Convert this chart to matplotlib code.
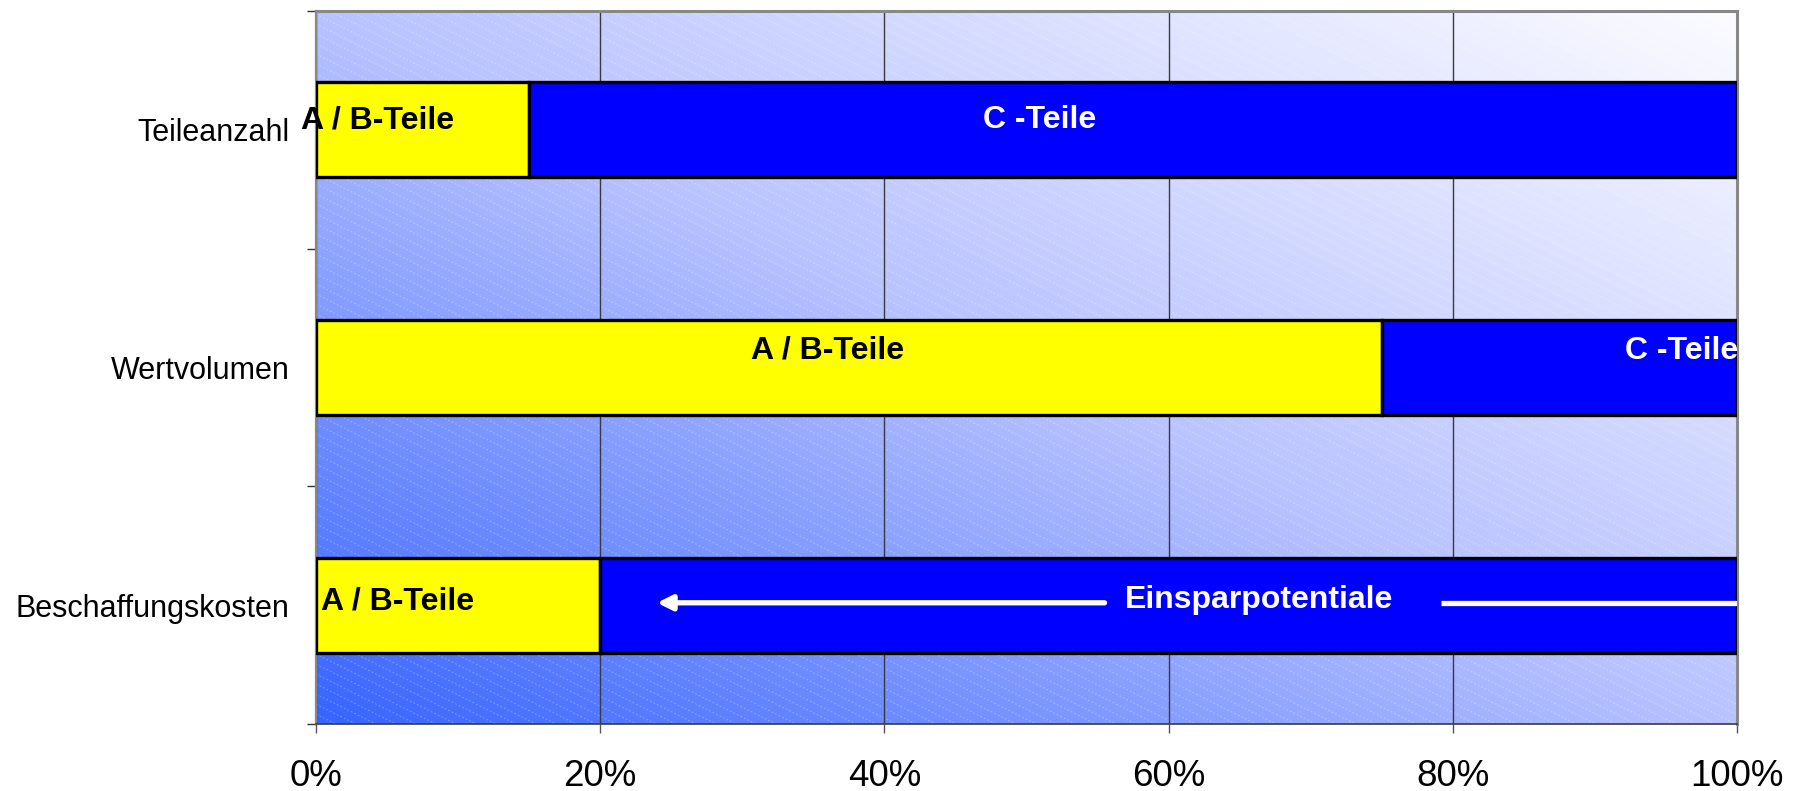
import matplotlib
matplotlib.use("Agg")
import matplotlib.pyplot as plt
import numpy as np
from matplotlib import font_manager
from matplotlib.collections import LineCollection

plt.rcParams["font.family"] = ["Liberation Sans", "DejaVu Sans"]

# --- data ---
categories = ["Teileanzahl", "Wertvolumen", "Beschaffungskosten"]
ab_teile = [15, 75, 20]          # % A / B-Teile
c_teile = [85, 25, 80]           # % C-Teile
x_ticks = [0, 20, 40, 60, 80, 100]
x_ticklabels = ["0%", "20%", "40%", "60%", "80%", "100%"]

YELLOW = "#FFFF00"
BLUE = "#0000FF"

# category labels in the reference are rendered condensed
_names = {f.name for f in font_manager.fontManager.ttflist}
if "Liberation Sans Narrow" in _names:
    cat_font, cat_size = ["Liberation Sans Narrow", "Liberation Sans"], 25.5
else:
    cat_font, cat_size = ["Liberation Sans", "DejaVu Sans"], 22

fig = plt.figure(figsize=(17.94, 7.91), dpi=100)
ax = fig.add_axes([0.1761, 0.0847, 0.7921, 0.9014])

# background: diagonal gradient blue (bottom-left) -> white (top-right)
nx, ny = 400, 200
xs = np.linspace(0, 1, nx)
ys = np.linspace(0, 1, ny)
X, Y = np.meshgrid(xs, ys)
t = (X + Y) / 2.0
stops_t = [0.0, 0.5, 1.0]
stops_c = np.array([[55, 100, 255], [185, 195, 255], [252, 252, 255]]) / 255.0
img = np.stack([np.interp(t, stops_t, stops_c[:, k]) for k in range(3)], axis=-1)
ax.imshow(img, extent=[0, 1, 0, 1], transform=ax.transAxes, origin="lower",
          aspect="auto", zorder=0, interpolation="bilinear")

# faint dashed diagonal hatch lines
W, H = 1421.0, 713.0
segs = []
for c in np.arange(0, H + 0.5 * W, 10.0):
    segs.append([(0.0, c / H), (1.0, (c - 0.5 * W) / H)])
lc = LineCollection(segs, colors=[(1, 1, 1, 0.3)], linewidths=0.7,
                    linestyles=(0, (2, 2)), transform=ax.transAxes, zorder=0.5)
lc.set_clip_path(ax.patch)
ax.add_collection(lc, autolim=False)

# bars
ypos = np.arange(len(categories))
ax.barh(ypos, ab_teile, height=0.4, color=YELLOW, edgecolor="black",
        linewidth=2.4, zorder=3)
ax.barh(ypos, c_teile, left=ab_teile, height=0.4, color=BLUE,
        edgecolor="black", linewidth=2.4, zorder=3)

ax.set_xlim(0, 100)
ax.set_ylim(2.5, -0.5)

# grid
ax.set_xticks(x_ticks)
ax.set_xticklabels(x_ticklabels, fontsize=26.5)
ax.xaxis.grid(True, color="#3a3a3a", linewidth=1.0, zorder=1)
ax.set_axisbelow(True)
ax.tick_params(axis="x", direction="out", length=6.5, color="#555555",
               width=1.0, pad=19)

ax.set_yticks(ypos)
ax.set_yticklabels(categories, fontsize=cat_size, family=cat_font)
ax.set_yticks([-0.5, 0.5, 1.5, 2.5], minor=True)
ax.tick_params(axis="y", which="major", length=0, pad=19)
ax.tick_params(axis="y", which="minor", length=6.5, width=1.0, color="#333333")

for s in ("top", "right", "left"):
    ax.spines[s].set_color("#888888")
ax.spines["top"].set_linewidth(2.2)
ax.spines["right"].set_linewidth(2.2)
ax.spines["left"].set_linewidth(1.6)
ax.spines["bottom"].set_color("#3a3a3a")
ax.spines["bottom"].set_linewidth(1.2)

# labels inside bars
bold = dict(fontsize=23, fontweight="bold", va="center", zorder=5)
ax.text(-1.06, -0.04, "A / B-Teile", color="black", ha="left", clip_on=False, **bold)
ax.text(50.9, -0.04, "C -Teile", color="white", ha="center", **bold)
ax.text(36.0, 0.93, "A / B-Teile", color="black", ha="center", **bold)
ax.text(100.1, 0.93, "C -Teile", color="white", ha="right", clip_on=False, **bold)
ax.text(0.35, 1.985, "A / B-Teile", color="black", ha="left", **bold)
ax.text(66.4, 1.98, "Einsparpotentiale", color="white", ha="center", **bold)

# savings arrow
y_arr = 1.99
ax.plot([79.2, 100], [y_arr, y_arr], color="white", lw=3.8,
        solid_capstyle="butt", zorder=4)
ax.annotate("", xy=(24.0, y_arr), xytext=(55.5, y_arr),
            arrowprops=dict(arrowstyle="-|>", color="white", lw=3.8,
                            mutation_scale=22, shrinkA=0, shrinkB=0),
            zorder=4)

fig.savefig("out.png", dpi=100, facecolor="white")
